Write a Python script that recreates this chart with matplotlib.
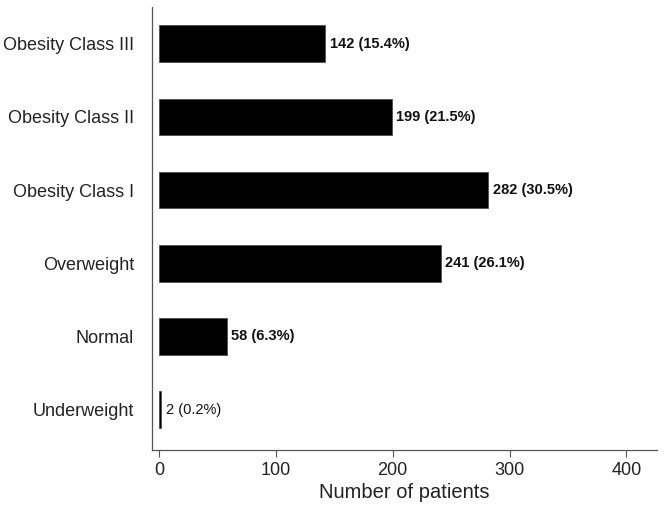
import matplotlib.pyplot as plt

categories = ['Underweight', 'Normal', 'Overweight', 'Obesity Class I',
              'Obesity Class II', 'Obesity Class III']
counts = [2, 58, 241, 282, 199, 142]
percents = [0.2, 6.3, 26.1, 30.5, 21.5, 15.4]

plt.rcParams['font.family'] = ['Liberation Sans', 'DejaVu Sans']

fig = plt.figure(figsize=(6.64, 5.13), dpi=100)
ax = fig.add_axes([0.229, 0.123, 0.760, 0.863])

ypos = list(range(len(categories)))
ax.barh(ypos, counts, height=0.5, color='black', edgecolor='#444444', linewidth=0.5)

for i, (c, p) in enumerate(zip(counts, percents)):
    weight = 'normal' if c < 10 else 'bold'
    ax.text(c + 4, i, f'{c} ({p}%)', va='center', ha='left',
            fontsize=10.5, fontweight=weight, color='#111111')

ax.set_yticks(ypos)
ax.set_yticklabels(categories, fontsize=13, color='#222222')
ax.tick_params(axis='y', length=0, pad=13)
ax.set_xticks([0, 100, 200, 300, 400])
ax.tick_params(axis='x', labelsize=13, labelcolor='#222222', color='#555555', length=5)
ax.set_xlim(-6, 426)
ax.set_ylim(-0.55, 5.5)
ax.set_xlabel('Number of patients', fontsize=14.5, color='#222222', labelpad=3)

for s in ['top', 'right']:
    ax.spines[s].set_visible(False)
for s in ['left', 'bottom']:
    ax.spines[s].set_color('#555555')
    ax.spines[s].set_linewidth(0.9)

plt.savefig('out.png', dpi=100)
